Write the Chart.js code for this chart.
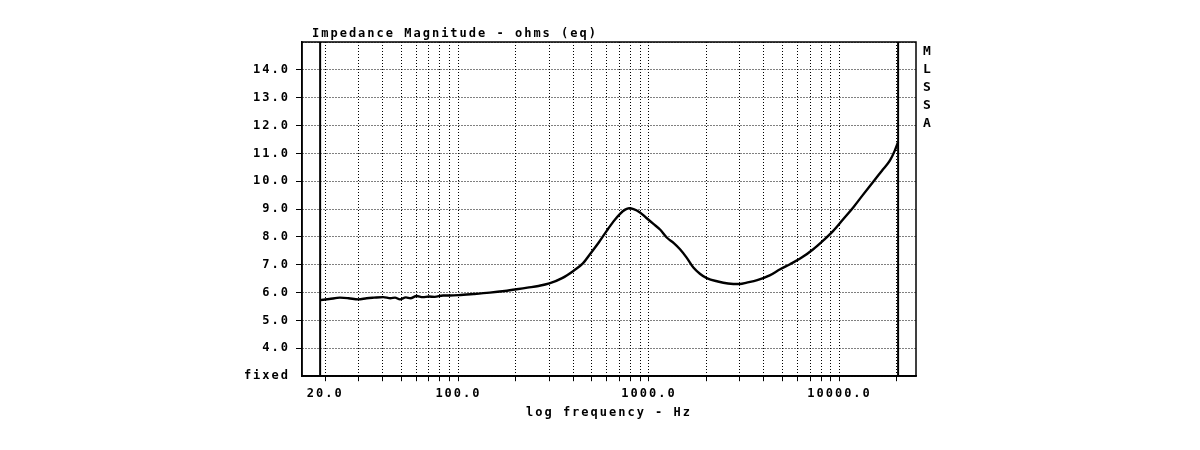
<!DOCTYPE html>
<html>
<head>
<meta charset="utf-8">
<script src="https://cdn.jsdelivr.net/npm/chart.js@4.4.1/dist/chart.umd.min.js"></script>
<style>
  html, body { margin: 0; padding: 0; background: #fff; }
  #wrap { width: 1200px; height: 450px; }
</style>
</head>
<body>
<div id="wrap"><canvas id="c" width="1200" height="450"></canvas></div>
<script>
// ---- data ----
const freqHz = [18.8, 21, 23.9, 26.5, 29.8, 33, 36, 40.3, 44, 46.5, 49.3, 53, 56, 60.3, 65, 70, 75, 83, 90, 100,
  120, 146, 175, 202, 230, 263, 300, 350, 401, 450, 490, 545, 600, 650, 705, 750, 786, 830, 897, 970,
  1055, 1150, 1240, 1350, 1455, 1580, 1710, 1850, 2010, 2300, 2600, 3000, 3260, 3700, 4300, 4880, 5500,
  6300, 7280, 8200, 9270, 10400, 11800, 13300, 15000, 16700, 18400, 19500, 20300];
const impedanceOhms = [5.73, 5.77, 5.82, 5.80, 5.76, 5.80, 5.82, 5.84, 5.80, 5.82, 5.76, 5.83, 5.80, 5.88, 5.84, 5.86, 5.85, 5.90, 5.90, 5.91,
  5.95, 6.00, 6.06, 6.12, 6.18, 6.24, 6.33, 6.52, 6.78, 7.05, 7.38, 7.80, 8.22, 8.55, 8.83, 8.98, 9.03, 9.00, 8.88, 8.68,
  8.47, 8.25, 7.98, 7.78, 7.56, 7.25, 6.90, 6.68, 6.52, 6.40, 6.33, 6.31, 6.36, 6.45, 6.62, 6.84, 7.02,
  7.25, 7.56, 7.87, 8.22, 8.62, 9.06, 9.52, 9.97, 10.38, 10.75, 11.10, 11.41];
const markerFreqs = [18.8, 20300];
const xGridValues = [20, 30, 40, 50, 60, 70, 80, 90, 100, 200, 300, 400, 500, 600, 700, 800, 900,
  1000, 2000, 3000, 4000, 5000, 6000, 7000, 8000, 9000, 10000, 20000];
const xLabelValues = [20, 100, 1000, 10000];
const xLabelTexts = ['20.0', '100.0', '1000.0', '10000.0'];
const yTickValues = [3, 4, 5, 6, 7, 8, 9, 10, 11, 12, 13, 14, 15];
const yTickLabels = ['fixed', '4.0', '5.0', '6.0', '7.0', '8.0', '9.0', '10.0', '11.0', '12.0', '13.0', '14.0', ''];
const titleText = 'Impedance Magnitude - ohms (eq)';
const xAxisTitle = 'log frequency - Hz';
const sideLetters = ['M', 'L', 'S', 'S', 'A'];
const xRange = [15.1, 25200];
const yRange = [3, 15];

const FONT = '"DejaVu Sans Mono", monospace';

const curve = freqHz.map((f, i) => ({ x: f, y: impedanceOhms[i] }));
const markerSets = markerFreqs.map(f => ({
  data: [{ x: f, y: yRange[0] }, { x: f, y: yRange[1] }],
  borderColor: '#000', borderWidth: 2, pointRadius: 0, tension: 0
}));

const framePlugin = {
  id: 'frame',
  beforeDraw(chart) {
    chart.ctx.letterSpacing = '2px';
  },
  afterDraw(chart) {
    const { ctx, chartArea: a } = chart;
    ctx.save();
    ctx.strokeStyle = '#000';
    ctx.lineWidth = 1.5;
    ctx.setLineDash([]);
    ctx.strokeRect(a.left, a.top, a.right - a.left, a.bottom - a.top);
    ctx.fillStyle = '#000';
    // chart title, sitting on the frame's top-left
    ctx.font = 'bold 12px ' + FONT;
    ctx.textAlign = 'left';
    ctx.textBaseline = 'alphabetic';
    ctx.letterSpacing = '2px';
    ctx.fillText(titleText, a.left + 10, a.top - 5);
    // stacked side label
    ctx.font = 'bold 13px ' + FONT;
    ctx.textAlign = 'center';
    ctx.textBaseline = 'middle';
    ctx.letterSpacing = '0px';
    sideLetters.forEach((ch, i) => {
      ctx.fillText(ch, a.right + 11, a.top + 10 + i * 17.8);
    });
    ctx.restore();
  }
};

new Chart(document.getElementById('c'), {
  type: 'line',
  data: {
    datasets: [
      { data: curve, borderColor: '#000', borderWidth: 2.4, pointRadius: 0, cubicInterpolationMode: 'monotone' },
      ...markerSets
    ]
  },
  options: {
    responsive: false,
    animation: false,
    events: [],
    layout: { padding: { left: 0, right: 284, top: 42, bottom: 30 } },
    plugins: {
      legend: { display: false },
      tooltip: { enabled: false },
      title: { display: false }
    },
    scales: {
      x: {
        type: 'logarithmic',
        min: xRange[0],
        max: xRange[1],
        afterBuildTicks(scale) {
          scale.ticks = xGridValues.map(v => ({ value: v }));
        },
        ticks: {
          autoSkip: false,
          maxRotation: 0,
          minRotation: 0,
          padding: 5,
          color: '#000',
          font: { family: FONT, size: 12, weight: 'bold' },
          callback(v) {
            const k = xLabelValues.indexOf(v);
            return k >= 0 ? xLabelTexts[k] : '';
          }
        },
        grid: {
          color: '#000',
          lineWidth: 1,
          tickLength: 5,
          tickColor: '#000',
          tickBorderDash: []
        },
        border: { display: true, color: '#000', width: 1.5, dash: [1, 2] },
        title: {
          display: true,
          text: xAxisTitle,
          color: '#000',
          font: { family: FONT, size: 12, weight: 'bold' },
          padding: { top: 0, bottom: 0 }
        }
      },
      y: {
        type: 'linear',
        min: yRange[0],
        max: yRange[1],
        afterBuildTicks(scale) {
          scale.ticks = yTickValues.map(v => ({ value: v }));
        },
        afterFit(scale) { scale.width = 302; },
        ticks: {
          autoSkip: false,
          padding: 6,
          color: '#000',
          font: { family: FONT, size: 12, weight: 'bold' },
          callback(v) {
            const k = yTickValues.indexOf(v);
            return k >= 0 ? yTickLabels[k] : '';
          }
        },
        grid: {
          color: '#000',
          lineWidth: 1,
          tickLength: 6,
          tickBorderDash: [],
          tickColor: ctx => (ctx.tick && (ctx.tick.value === yRange[0] || ctx.tick.value === yRange[1])) ? 'rgba(0,0,0,0)' : '#000'
        },
        border: { display: true, color: '#000', width: 1.5, dash: [1, 2] }
      }
    }
  },
  plugins: [framePlugin]
});
</script>
</body>
</html>
